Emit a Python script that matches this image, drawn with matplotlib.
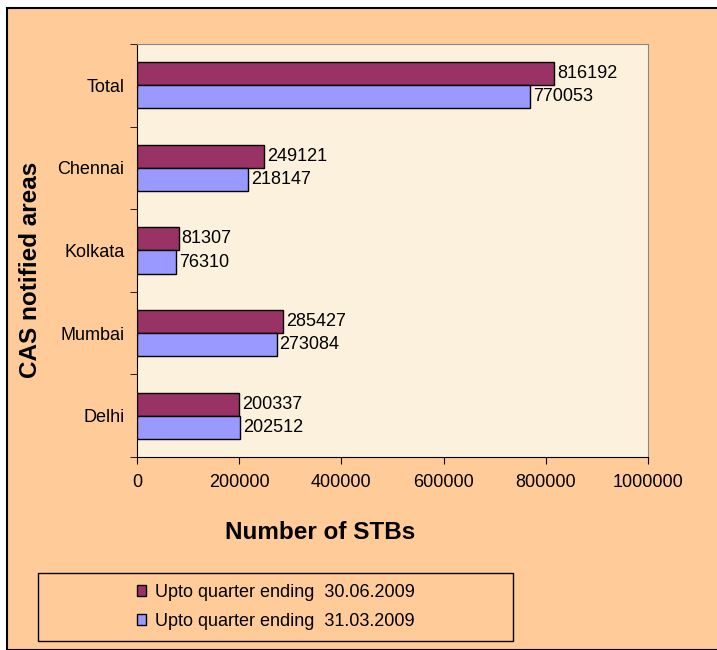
import matplotlib.pyplot as plt
import numpy as np
from matplotlib.patches import Rectangle

# data
areas = ['Delhi', 'Mumbai', 'Kolkata', 'Chennai', 'Total']
q_jun = [200337, 285427, 81307, 249121, 816192]
q_mar = [202512, 273084, 76310, 218147, 770053]
series_labels = ['Upto quarter ending  30.06.2009', 'Upto quarter ending  31.03.2009']
x_ticks = [0, 200000, 400000, 600000, 800000, 1000000]

plt.rcParams['font.family'] = ['Liberation Sans', 'DejaVu Sans']

fig = plt.figure(figsize=(7.17, 6.5), dpi=100)
fig.patch.set_facecolor('white')

# orange background with black frame
bg = Rectangle((7 / 717, 0), 1, 1 - 8 / 650, transform=fig.transFigure,
               facecolor='#FFCC99', edgecolor='black', linewidth=1.5, zorder=-10)
fig.patches.append(bg)

ax = fig.add_axes([137 / 717, 1 - 457 / 650, (648 - 137) / 717, (457 - 44) / 650])
ax.set_facecolor('#FCF1DC')

y = np.arange(len(areas))
h = 0.28
ax.barh(y + h / 2, q_jun, height=h, color='#993366', edgecolor='black', linewidth=1,
        label=series_labels[0], zorder=3)
ax.barh(y - h / 2, q_mar, height=h, color='#9999FF', edgecolor='black', linewidth=1,
        label=series_labels[1], zorder=3)

for yi, v in zip(y, q_jun):
    ax.text(v + 6000, yi + h / 2, str(v), va='center', ha='left', fontsize=13)
for yi, v in zip(y, q_mar):
    ax.text(v + 6000, yi - h / 2, str(v), va='center', ha='left', fontsize=13)

ax.set_xlim(0, 1000000)
ax.set_ylim(-0.5, len(areas) - 0.5)
ax.set_xticks(x_ticks)
ax.set_xticklabels([str(t) for t in x_ticks], fontsize=13)
ax.set_yticks(y)
ax.set_yticklabels(areas, fontsize=13)
ax.set_yticks(np.arange(len(areas) + 1) - 0.5, minor=True)
ax.tick_params(axis='y', which='major', length=0, pad=9)
ax.tick_params(axis='y', which='minor', length=5, direction='out')
ax.tick_params(axis='x', length=5, direction='out', pad=7)

for s in ['top', 'right']:
    ax.spines[s].set_color('#888888')
for s in ['left', 'bottom']:
    ax.spines[s].set_color('black')

ax.set_xlabel('Number of STBs', fontsize=17.5, fontweight='bold', va='center')
ax.set_ylabel('CAS notified areas', fontsize=17.5, fontweight='bold', va='center')
ax.xaxis.set_label_coords(0.358, -0.182)
ax.yaxis.set_label_coords(-0.209, 0.453)

# legend box
box = Rectangle((38 / 717, 1 - 641 / 650), (513 - 38) / 717, (641 - 573) / 650,
                transform=fig.transFigure, facecolor='#FFCC99', edgecolor='black',
                linewidth=1, zorder=1)
fig.patches.append(box)

handles, labels = ax.get_legend_handles_labels()
leg = fig.legend(handles, labels, loc='center',
                 bbox_to_anchor=((38 + 513) / 2 / 717, 1 - (573 + 641) / 2 / 650),
                 fontsize=13, frameon=False,
                 handlelength=0.55, handleheight=0.55, handletextpad=0.45, labelspacing=0.7,
                 borderpad=0)

fig.savefig('out.png', dpi=100, facecolor=fig.get_facecolor())
